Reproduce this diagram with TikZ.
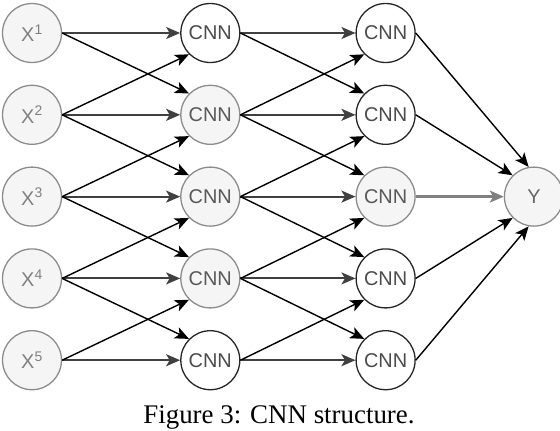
\documentclass[tikz,border=0pt]{standalone}
\usepackage{fontspec}
\setmainfont{Liberation Serif}
\setsansfont{Liberation Sans}
\usetikzlibrary{positioning,arrows.meta}

\tikzset{
    unit/.style={circle, minimum size=59bp, inner sep=0pt, line width=1.3bp,
        font=\sffamily\fontsize{20}{20}\selectfont},
    cnnw/.style={unit, draw=black!85, fill=white, text=black!70},
    cnng/.style={unit, draw=black!45, fill=black!4, text=black!65},
    inp/.style={cnng, text=black!50},
    link/.style={-{Stealth[length=14bp,width=12bp,inset=3.5bp]}, line width=1.4bp, black},
    flat/.style={link, line width=2bp, black!75}
}

\begin{document}
\begin{tikzpicture}[x=1bp,y=-1bp]
        \useasboundingbox (0,0) rectangle (560,430);
        % inputs X^1 .. X^5
        \node[inp] (x1) at (32,33) {X\textsuperscript{1}};
        \foreach \i [count=\j from 2] in {1,...,4} {
            \node[inp, below=21.5bp of x\i] (x\j) {X\textsuperscript{\j}};
        }
        % two columns of CNN units
        \foreach \i/\sa/\sb in {1/cnnw/cnnw,2/cnng/cnnw,3/cnng/cnng,4/cnng/cnnw,5/cnnw/cnnw} {
            \node[\sa, right=118bp of x\i] (a\i) {CNN};
            \node[\sb, right=115bp of a\i] (b\i) {CNN};
        }
        % output
        \node[inp, text=black!60, right=88bp of b3] (y) {Y};

        % straight edges
        \foreach \i in {1,...,5} {
            \draw[flat] (x\i.east) -- (a\i.west);
            \draw[flat] (a\i.east) -- (b\i.west);
        }
        % crossing edges to the neighbours above and below
        \foreach \i [count=\j from 2] in {1,...,4} {
            \draw[link] (x\i.east) -- (a\j.north west);
            \draw[link] (x\j.east) -- (a\i.south west);
            \draw[link] (a\i.east) -- (b\j.north west);
            \draw[link] (a\j.east) -- (b\i.south west);
        }
        % everything goes into Y
        \foreach \i/\ang in {1/100,2/135,4/225,5/260} {
            \draw[link] (b\i.east) -- (y.\ang);
        }
        \draw[flat, black!50, line width=2.4bp] (b3.east) -- (y.west);

        \node[font=\fontsize{27}{27}\selectfont, anchor=base] (cap) at (279,423) {Figure 3: CNN structure.};
\end{tikzpicture}
\end{document}
